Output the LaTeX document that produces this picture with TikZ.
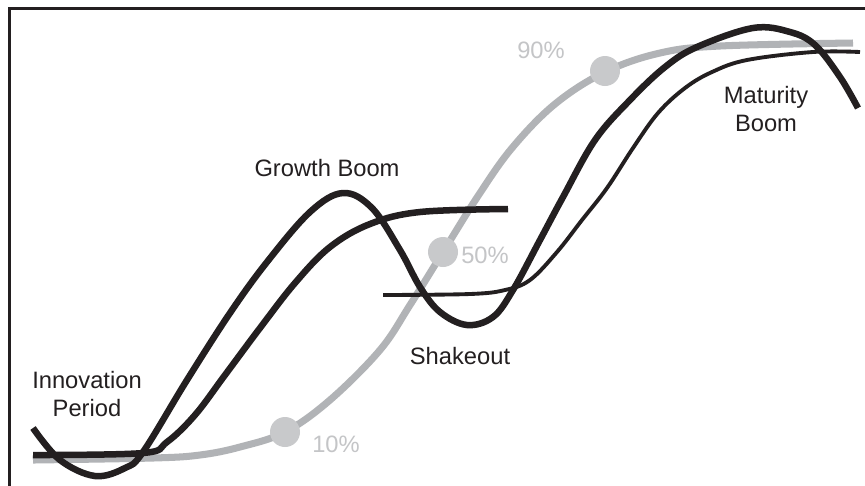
\documentclass[tikz,border=0pt]{standalone}
\usepackage{fontspec}
\setmainfont{Liberation Sans}
\definecolor{inkblack}{HTML}{231F20}
\definecolor{trendgray}{HTML}{B1B3B6}
\definecolor{dotgray}{HTML}{C8C9CB}
\definecolor{pctgray}{HTML}{C4C5C7}
\begin{document}
\begin{tikzpicture}[x=0.02cm, y=-0.02cm, every node/.style={align=center, inner sep=0pt, text=inkblack, font=\fontsize{13.5}{15.5}\selectfont}]
	\tikzset{ wave/.style = {draw=inkblack, line width=3.7pt} }
	\tikzset{ thinwave/.style = {draw=inkblack, line width=2.2pt} }
	\tikzset{ trend/.style = {draw=trendgray, line width=4pt} }
	\tikzset{ dot/.style = {circle, fill=dotgray, minimum size=0.6cm} }
	\tikzset{ pct/.style = {text=pctgray} }
	\useasboundingbox (0,0) rectangle (865,485);
	\clip (0,0) rectangle (865,485);
	\fill[white] (0,0) rectangle (865,485);
	\draw[line width=1.4pt, draw=inkblack] (9.5,8.5) rectangle (900,520);
	\draw[trend] plot[smooth, tension=0.6] coordinates {(33,460) (153,458) (200,455) (240,447) (285,432) (330,400) (380,350) (410,305) (443,252) (478,196) (512,148) (555,104) (605,72) (660,53) (720,46) (853,43)};
	\draw[wave] plot[smooth, tension=0.6] coordinates {(33,428) (60,460) (95,476) (125,468) (143,452) (187,380) (230,313) (267,262) (310,212) (343,193) (372,208) (400,250) (420,287) (440,312) (467,325) (493,317) (513,290) (540,240) (563,197) (595,140) (630,100) (665,67) (697,47) (753,28) (790,32) (815,45) (840,77) (858,108)};
	\draw[wave] plot[smooth, tension=0.6] coordinates {(33,455) (143,453) (167,442) (195,415) (225,375) (260,328) (295,283) (330,247) (370,224) (420,212) (508,209)};
	\draw[thinwave] plot[smooth, tension=0.6] coordinates {(383,295) (470,294) (505,290) (530,280) (557,252) (582,220) (607,188) (633,148) (658,113) (685,88) (712,72) (747,60) (813,52) (860,52)};
	\node[dot] (p10) at (285,432) {};
	\node[dot] (p50) at (443,252) {};
	\node[dot] (p90) at (605,71) {};
	\node[pct] (l10) at (336,444) {10\%};
	\node[pct] (l50) at (485,255) {50\%};
	\node[pct] (l90) at (541,50) {90\%};
	\node (innov) at (87,394) {Innovation\\Period};
	\node (growth) at (327,168) {Growth Boom};
	\node (shake) at (460,356) {Shakeout};
	\node (mature) at (766,109) {Maturity\\Boom};
\end{tikzpicture}
\end{document}
